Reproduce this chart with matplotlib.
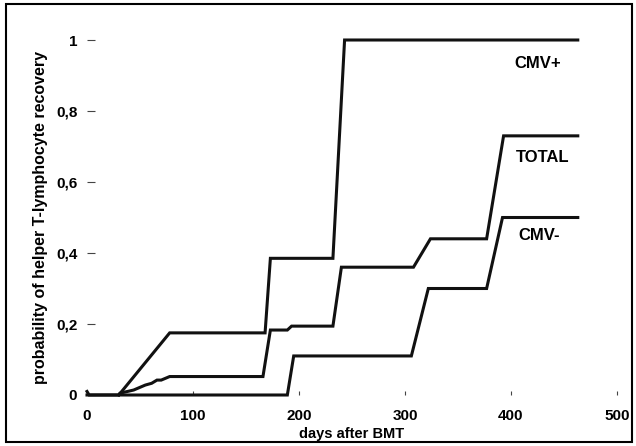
import matplotlib
matplotlib.use("Agg")
import matplotlib.pyplot as plt
from matplotlib.patches import Rectangle

# Data (days after BMT, probability)
cmv_pos_days = [0, 2, 30, 78, 168, 173, 232, 243, 463]
cmv_pos_vals = [0.01, 0.0, 0.0, 0.175, 0.175, 0.385, 0.385, 1.0, 1.0]

total_days = [30, 31, 44, 55, 61, 66, 70, 78, 166, 173, 189, 193, 232, 240, 308, 324, 377, 393, 463]
total_vals = [0.0, 0.005, 0.014, 0.028, 0.033, 0.042, 0.042, 0.052, 0.052, 0.183, 0.183, 0.194, 0.194, 0.36, 0.36, 0.44, 0.44, 0.73, 0.73]

cmv_neg_days = [0, 189, 195, 306, 322, 377, 392, 463]
cmv_neg_vals = [0.0, 0.0, 0.11, 0.11, 0.30, 0.30, 0.50, 0.50]

series_labels = ["CMV+", "TOTAL", "CMV-"]
label_pos = [(425, 0.935), (430, 0.67), (427, 0.45)]

x_ticks = [0, 100, 200, 300, 400, 500]
y_ticks = [0, 0.2, 0.4, 0.6, 0.8, 1]
y_tick_labels = ["0", "0,2", "0,4", "0,6", "0,8", "1"]

plt.rcParams['font.family'] = ['Liberation Sans', 'DejaVu Sans']

W, H = 636, 446
fig = plt.figure(figsize=(W / 100, H / 100), dpi=100)
ax = fig.add_axes([87 / W, (H - 395) / H, (617 - 87) / W, (395 - 40) / H])
ax.set_xlim(0, 500)
ax.set_ylim(0, 1)

for d, v in [(cmv_pos_days, cmv_pos_vals), (total_days, total_vals), (cmv_neg_days, cmv_neg_vals)]:
    ax.plot(d, v, color='#111111', lw=2.2, clip_on=False, solid_joinstyle='miter')

for lab, (x, y) in zip(series_labels, label_pos):
    ax.text(x, y, lab, fontsize=12, fontweight='bold', ha='center', va='center')

for s in ax.spines.values():
    s.set_visible(False)

ax.set_xticks(x_ticks)
ax.set_xticklabels([str(t) for t in x_ticks], fontsize=11, fontweight='bold')
ax.set_yticks(y_ticks)
ax.set_yticklabels(y_tick_labels, fontsize=11, fontweight='bold')
ax.tick_params(axis='x', direction='in', length=3, pad=10, color='#444444')
ax.tick_params(axis='y', direction='in', length=6, pad=7, color='#444444')

ax.set_xlabel("days after BMT", fontsize=10.5, fontweight='bold', labelpad=3)
ax.set_ylabel("probability of helper T-lymphocyte recovery", fontsize=11.5, fontweight='bold', labelpad=6)

fig.patches.append(Rectangle((6 / W, 4 / H), (632 - 6) / W, (442 - 4) / H,
                             transform=fig.transFigure, fill=False, lw=1.5, ec='black'))

fig.savefig("out.png", dpi=100)
